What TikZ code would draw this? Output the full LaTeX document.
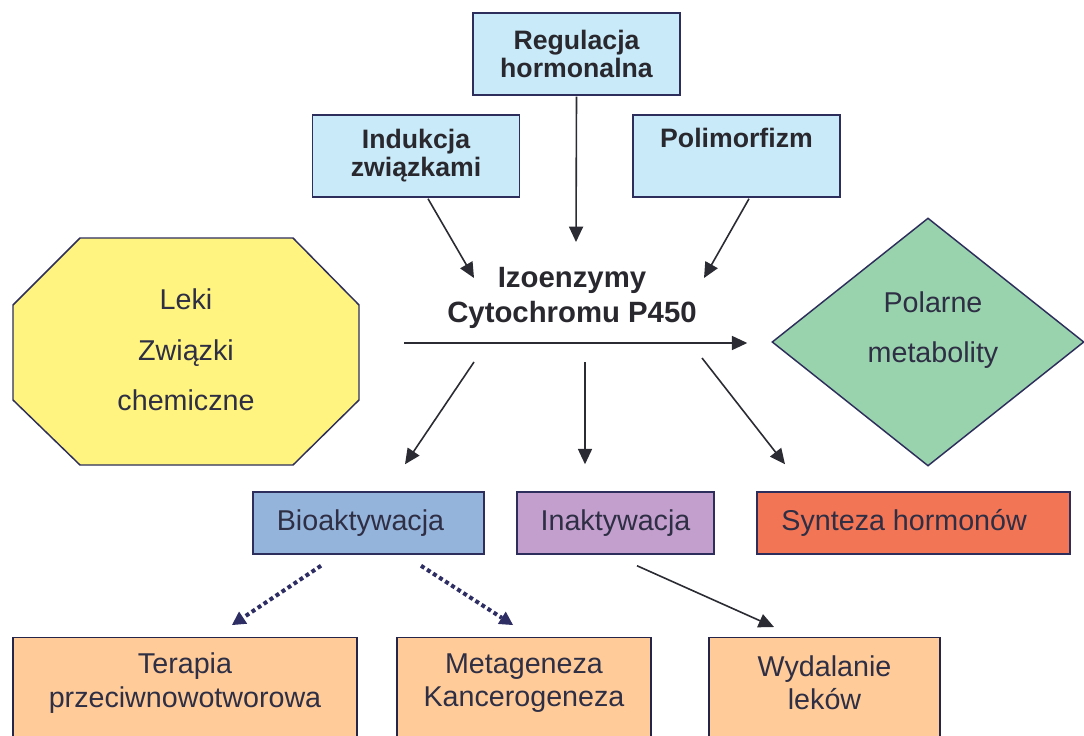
\documentclass[tikz,border=0pt]{standalone}
\usepackage{fontspec}
\setmainfont{Liberation Sans}
\usetikzlibrary{arrows.meta,shapes.geometric}
\definecolor{txt}{HTML}{2E2E44}
\definecolor{boldtxt}{HTML}{28282E}
\definecolor{edge}{HTML}{2E2E5C}
\definecolor{topfill}{HTML}{C9EAF8}
\definecolor{yel}{HTML}{FFF47F}
\definecolor{grn}{HTML}{99D3AD}
\definecolor{bioc}{HTML}{95B4DC}
\definecolor{inac}{HTML}{C39FCE}
\definecolor{sync}{HTML}{F27556}
\definecolor{peach}{HTML}{FFCC99}
\definecolor{arrc}{HTML}{2B2B33}
\definecolor{dotc}{HTML}{2E2E64}
\tikzset{
  topbox/.style={draw=edge, fill=topfill, line width=1.1pt, minimum width=155.5pt, minimum height=61.5pt, inner sep=0pt, align=center, text=boldtxt, font=\fontsize{20}{21}\selectfont\bfseries},
  midbox/.style={draw=edge, line width=1.1pt, minimum height=46.5pt, inner sep=0pt, align=center, text=txt, font=\fontsize{21.5}{25}\selectfont},
  lowbox/.style={draw=edge!80!black, fill=peach, line width=1.1pt, minimum height=97.5pt, inner sep=0pt, anchor=north},
  lbl/.style={align=center, text=txt, inner sep=0pt, font=\fontsize{21.5}{25}\selectfont},
  arr/.style={draw=arrc, line width=1.2pt, -{Triangle[length=11.5pt,width=10.5pt]}},
  dotarr/.style={draw=dotc, line width=3pt, dash pattern=on 3pt off 2.4pt, -{Triangle[length=10pt,width=11pt,line width=0pt]}}
}
\begin{document}
\begin{tikzpicture}[x=0.75pt,y=-0.75pt]
\useasboundingbox (0,0) rectangle (1084,735);
\clip (0,0) rectangle (1084,735);
% top boxes
\node[topbox] (reg) at (576.5,54) {Regulacja\\hormonalna};
\node[topbox] (ind) at (416,156) {Indukcja\\związkami};
\node[topbox] (pol) at (736.5,156) {Polimorfizm\\\strut};
% centre
\node[align=center, text=boldtxt, inner sep=0pt, font=\fontsize{22}{26}\selectfont\bfseries] (izo) at (572,298) {Izoenzymy\\Cytochromu P450};
% octagon
\filldraw[draw=edge, fill=yel, line width=1.1pt] (80,238) -- (293,238) -- (359,305) -- (359,400) -- (293,465) -- (80,465) -- (13,400) -- (13,305) -- cycle;
\node[lbl, font=\fontsize{21.5}{38}\selectfont] (lek) at (186,350) {Leki\\Związki\\chemiczne};
% diamond
\node[diamond, draw=edge, fill=grn, line width=1.1pt, minimum width=234pt, minimum height=186pt, aspect=1.26, inner sep=0pt] (met) at (928,342) {};
\node[lbl, font=\fontsize{21.5}{38}\selectfont] (metl) at ([shift={(5,-12)}]met.center) {Polarne\\metabolity};
% middle boxes
\node[midbox, fill=bioc, minimum width=173.25pt] (bio) at (368.5,523) {Bioaktywacja\hspace*{12pt}};
\node[midbox, fill=inac, minimum width=147.75pt] (ina) at (615.5,523) {Inaktywacja};
\node[midbox, fill=sync, minimum width=234.75pt] (syn) at (913.5,523) {Synteza hormonów\hspace*{14pt}};
% bottom boxes
\node[lowbox, minimum width=258pt] (ter) at (185,637) {};
\node[lbl] (terl) at ([shift={(0,46)}]ter.north) {Terapia\\przeciwnowotworowa};
\node[lowbox, minimum width=190.5pt] (mtg) at (524,637) {};
\node[lbl] (mtgl) at ([shift={(0,46)}]mtg.north) {Metageneza\\Kancerogeneza};
\node[lowbox, minimum width=173.25pt] (wyd) at (824.5,637) {};
\node[lbl] (wydl) at ([shift={(0,46)}]wyd.north) {Wydalanie\\leków};
% arrows into centre
\draw[arr] ([shift={(12,1)}]ind.south) -- ([shift={(-98,-20)}]izo.center);
\draw[arr] ([shift={(0,1)}]reg.south) -- ([shift={(4,-56)}]izo.center);
\draw[arr] ([shift={(12.5,1)}]pol.south) -- ([shift={(132,-20)}]izo.center);
% horizontal
\draw[arr] ([shift={(-168,45)}]izo.center) -- ([shift={(-24,1)}]met.west);
% arrows out of centre
\draw[arr] ([shift={(-98,64)}]izo.center) -- ([shift={(36.5,-27)}]bio.north);
\draw[arr] ([shift={(13,64)}]izo.center) -- ([shift={(-30.5,-27)}]ina.north);
\draw[arr] ([shift={(130,60)}]izo.center) -- ([shift={(-128.5,-27)}]syn.north);
% dotted
\draw[dotarr] ([shift={(-47.5,11)}]bio.south) -- ([shift={(47,-12)}]ter.north);
\draw[dotarr] ([shift={(52.5,11)}]bio.south) -- ([shift={(-11,-12)}]mtg.north);
% solid lower
\draw[arr] ([shift={(21.5,11)}]ina.south) -- ([shift={(-50.5,-10)}]wyd.north);
\end{tikzpicture}
\end{document}
